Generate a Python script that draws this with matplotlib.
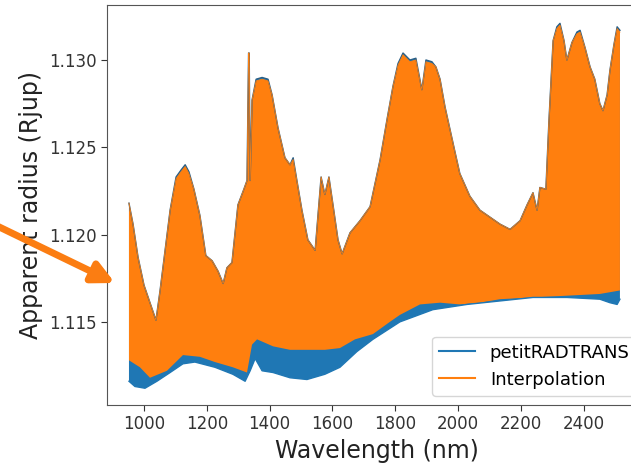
import numpy as np
import matplotlib
matplotlib.use("Agg")
import matplotlib.pyplot as plt

# Upper envelope of the dense spectra (wavelength in nm, radius in Rjup)
wl_upper = [952, 965, 981, 1000, 1019, 1038, 1051, 1067, 1083, 1102, 1118, 1131, 1143,
            1159, 1178, 1197, 1217, 1236, 1252, 1264, 1280, 1299, 1318, 1328, 1333, 1335,
            1338, 1344, 1357, 1376, 1395, 1408, 1427, 1449, 1465, 1475, 1487, 1503, 1522,
            1545, 1554, 1564, 1576, 1589, 1602, 1618, 1631, 1656, 1688, 1720, 1752, 1774,
            1793, 1809, 1825, 1847, 1866, 1885, 1898, 1917, 1930, 1943, 1959, 1975, 1991,
            2006, 2038, 2070, 2102, 2134, 2166, 2198, 2220, 2239, 2252, 2261, 2280, 2290,
            2303, 2315, 2325, 2338, 2347, 2363, 2379, 2389, 2405, 2421, 2436, 2452, 2462,
            2475, 2484, 2497, 2507, 2516]
interp_upper = [1.1218, 1.1206, 1.1187, 1.1171, 1.1161, 1.1151, 1.1168, 1.1191, 1.1214,
                1.1232, 1.1236, 1.1239, 1.1235, 1.1226, 1.1211, 1.1188, 1.1185, 1.1179,
                1.1172, 1.1181, 1.1184, 1.1217, 1.1226, 1.1231, 1.1304, 1.1304, 1.1231,
                1.1277, 1.1288, 1.1289, 1.1288, 1.1280, 1.1261, 1.1244, 1.1240, 1.1243,
                1.1231, 1.1214, 1.1197, 1.1191, 1.1211, 1.1233, 1.1223, 1.1233, 1.1217,
                1.1197, 1.1189, 1.1201, 1.1208, 1.1216, 1.1243, 1.1266, 1.1285, 1.1297,
                1.1303, 1.1299, 1.1300, 1.1283, 1.1299, 1.1298, 1.1296, 1.1289, 1.1273,
                1.1260, 1.1247, 1.1235, 1.1222, 1.1214, 1.1210, 1.1206, 1.1203, 1.1208,
                1.1217, 1.1224, 1.1214, 1.1227, 1.1226, 1.1266, 1.1311, 1.1318, 1.1320,
                1.1311, 1.1300, 1.1310, 1.1315, 1.1316, 1.1307, 1.1296, 1.1289, 1.1275,
                1.1271, 1.1280, 1.1294, 1.1309, 1.1318, 1.1316]
prt_upper = [1.1218, 1.1206, 1.1187, 1.1171, 1.1161, 1.1151, 1.1168, 1.1191, 1.1214,
             1.1233, 1.1237, 1.1240, 1.1236, 1.1226, 1.1211, 1.1188, 1.1185, 1.1179,
             1.1172, 1.1181, 1.1184, 1.1217, 1.1226, 1.1231, 1.1304, 1.1304, 1.1231,
             1.1277, 1.1289, 1.1290, 1.1289, 1.1280, 1.1261, 1.1244, 1.1240, 1.1244,
             1.1231, 1.1214, 1.1197, 1.1191, 1.1211, 1.1233, 1.1223, 1.1233, 1.1217,
             1.1197, 1.1189, 1.1201, 1.1208, 1.1216, 1.1243, 1.1266, 1.1285, 1.1298,
             1.1304, 1.1300, 1.1301, 1.1283, 1.1300, 1.1299, 1.1296, 1.1289, 1.1273,
             1.1260, 1.1247, 1.1235, 1.1222, 1.1214, 1.1210, 1.1206, 1.1203, 1.1208,
             1.1217, 1.1224, 1.1214, 1.1227, 1.1226, 1.1266, 1.1311, 1.1319, 1.1321,
             1.1311, 1.1300, 1.1310, 1.1316, 1.1317, 1.1307, 1.1296, 1.1289, 1.1275,
             1.1271, 1.1280, 1.1294, 1.1309, 1.1319, 1.1317]

# Lower envelope of the interpolated spectrum
wl_interp_lower = [952, 987, 1019, 1073, 1124, 1178, 1226, 1283, 1328, 1344, 1360, 1411,
                   1465, 1519, 1576, 1624, 1672, 1729, 1783, 1815, 1879, 1943, 2006, 2070,
                   2134, 2239, 2347, 2452, 2484, 2516]
interp_lower = [1.1128, 1.1124, 1.1118, 1.1122, 1.1131, 1.1130, 1.1127, 1.1124, 1.1121,
                1.1137, 1.1140, 1.1136, 1.1134, 1.1134, 1.1134, 1.1135, 1.1140, 1.1143,
                1.1150, 1.1154, 1.1160, 1.1161, 1.1160, 1.1161, 1.1163, 1.1164, 1.1165,
                1.1166, 1.1167, 1.1168]

# Lower envelope of the petitRADTRANS spectrum
wl_prt_lower = [952, 971, 1003, 1041, 1083, 1124, 1162, 1226, 1283, 1322, 1338, 1354, 1376,
                1411, 1465, 1519, 1576, 1624, 1678, 1729, 1815, 1920, 2029, 2134, 2239,
                2347, 2452, 2484, 2507, 2516]
prt_lower = [1.1116, 1.1113, 1.1112, 1.1116, 1.1121, 1.1126, 1.1127, 1.1124, 1.1120,
             1.1116, 1.1122, 1.1129, 1.1122, 1.1121, 1.1118, 1.1117, 1.1120, 1.1124,
             1.1133, 1.1140, 1.1150, 1.1157, 1.1160, 1.1162, 1.1164, 1.1164, 1.1163,
             1.1161, 1.1160, 1.1163]

xticks = [1000, 1200, 1400, 1600, 1800, 2000, 2200, 2400]
yticks = [1.115, 1.120, 1.125, 1.130]
series_labels = ["petitRADTRANS", "Interpolation"]

BLUE = "#1f77b4"
ORANGE = "#ff7f0e"

fig = plt.figure(figsize=(6.31, 4.66), dpi=100)
ax = fig.add_axes([107 / 631, 61 / 466, 539 / 631, 400 / 466])

# petitRADTRANS band
ax.fill(np.concatenate([wl_upper, wl_prt_lower[::-1]]),
        np.concatenate([prt_upper, prt_lower[::-1]]),
        color=BLUE, lw=0)
ax.plot(wl_upper, prt_upper, color="#2a5f86", lw=1.0, label=series_labels[0])
ax.plot(wl_prt_lower, prt_lower, color=BLUE, lw=1.0)

# Interpolation band
ax.fill(np.concatenate([wl_upper, wl_interp_lower[::-1]]),
        np.concatenate([interp_upper, interp_lower[::-1]]),
        color=ORANGE, lw=0)
ax.plot(wl_upper, interp_upper, color=ORANGE, lw=0.6, label=series_labels[1])

ax.set_xlim(882, 2599)
ax.set_ylim(1.11024, 1.13315)
ax.set_xticks(xticks)
ax.set_yticks(yticks)
ax.tick_params(labelsize=12, colors="#333333", length=4)
for sp in ax.spines.values():
    sp.set_color("#555555")
ax.set_xlabel("Wavelength (nm)", fontsize=17, color="#222222")
ax.set_ylabel("Apparent radius (Rjup)", fontsize=17, color="#222222")

leg = ax.legend(loc="lower right", fontsize=13)
for line in leg.get_lines():
    line.set_linewidth(1.5)
leg.get_lines()[0].set_color(BLUE)

# Orange annotation arrow from outside the axes
ax.annotate("", xy=(115, 183), xytext=(-40, 258), xycoords="figure pixels",
            textcoords="figure pixels", annotation_clip=False,
            arrowprops=dict(arrowstyle="-|>", color="#fb7d12", lw=5,
                            mutation_scale=32, shrinkA=0, shrinkB=0))

fig.savefig("out.png", dpi=100)
